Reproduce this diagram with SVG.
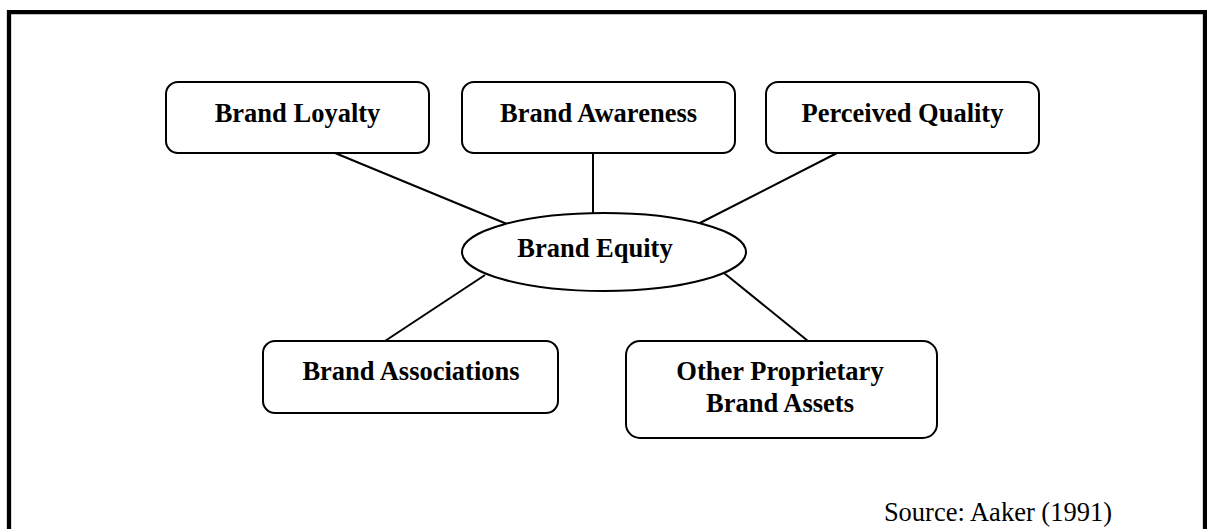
<svg xmlns="http://www.w3.org/2000/svg" width="1207" height="529" viewBox="0 0 1207 529">
  <style>
    .box { fill: #ffffff; stroke: #000000; stroke-width: 2; }
    .lbl { font-family: "Liberation Serif", "Times New Roman", serif; font-weight: bold; font-size: 26.5px; fill: #000000; text-anchor: middle; }
    .src { font-family: "Liberation Serif", "Times New Roman", serif; font-size: 26.5px; fill: #000000; text-anchor: end; }
    .link { stroke: #000000; stroke-width: 2; fill: none; }
  </style>
  <rect x="0" y="0" width="1207" height="529" fill="#ffffff"/>
  <!-- frame, open at the bottom -->
  <path d="M9,529 V12.2 H1205 V529" fill="none" stroke="#000000" stroke-width="4.3"/>

  <g id="connectors">
    <line class="link" x1="335" y1="153" x2="507" y2="224"/>
    <line class="link" x1="593" y1="153" x2="593" y2="213"/>
    <line class="link" x1="837" y1="153" x2="698" y2="224"/>
    <line class="link" x1="485" y1="275" x2="385" y2="341"/>
    <line class="link" x1="724" y1="273" x2="808" y2="341"/>
  </g>

  <g id="brand-equity">
    <ellipse class="box" cx="604" cy="252" rx="142" ry="39"/>
    <text class="lbl" x="595" y="257">Brand Equity</text>
  </g>

  <g id="brand-loyalty">
    <rect class="box" x="166" y="82" width="263" height="71" rx="12" ry="12"/>
    <text class="lbl" x="297.5" y="122">Brand Loyalty</text>
  </g>

  <g id="brand-awareness">
    <rect class="box" x="462" y="82" width="273" height="71" rx="12" ry="12"/>
    <text class="lbl" x="598.5" y="122">Brand Awareness</text>
  </g>

  <g id="perceived-quality">
    <rect class="box" x="766" y="82" width="273" height="71" rx="12" ry="12"/>
    <text class="lbl" x="902.5" y="122">Perceived Quality</text>
  </g>

  <g id="brand-associations">
    <rect class="box" x="263" y="341" width="295" height="72" rx="12" ry="12"/>
    <text class="lbl" x="411" y="380">Brand Associations</text>
  </g>

  <g id="other-assets">
    <rect class="box" x="626" y="341" width="311" height="97" rx="14" ry="14"/>
    <text class="lbl" x="780" y="380">Other Proprietary</text>
    <text class="lbl" x="780" y="412">Brand Assets</text>
  </g>

  <text class="src" x="1112" y="521">Source: Aaker (1991)</text>
</svg>
